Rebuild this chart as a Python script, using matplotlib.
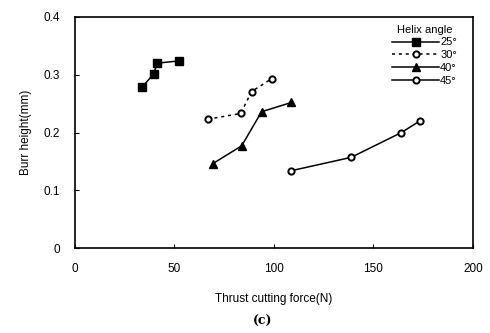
import matplotlib
matplotlib.use("Agg")
from matplotlib import pyplot as plt

plt.rcParams['font.family'] = ['Liberation Sans', 'DejaVu Sans']

# burr height vs thrust force, one series per helix angle
force_25 = [33.8, 39.5, 41.3, 52.2]
burr_25 = [0.279, 0.301, 0.320, 0.324]
force_30 = [66.7, 83.3, 88.8, 98.8]
burr_30 = [0.223, 0.233, 0.271, 0.293]
force_40 = [69.2, 83.8, 93.8, 108.8]
burr_40 = [0.146, 0.177, 0.236, 0.252]
force_45 = [108.8, 138.8, 164.1, 173.3]
burr_45 = [0.134, 0.157, 0.200, 0.220]

fig = plt.figure(figsize=(4.9, 3.33), dpi=100)
ax = fig.add_axes([0.153, 0.255, 0.812, 0.694])

ax.plot(force_25, burr_25, '-', color='black', lw=1.1, marker='s', ms=6,
        mfc='black', mec='black', label='25°')
ax.plot(force_30, burr_30, '--', color='black', lw=1.1, dashes=(2, 2.5), marker='o', ms=4.5,
        mfc='white', mec='black', mew=1.4, label='30°')
ax.plot(force_40, burr_40, '-', color='black', lw=1.1, marker='^', ms=6,
        mfc='black', mec='black', label='40°')
ax.plot(force_45, burr_45, '-', color='black', lw=1.1, marker='o', ms=4.5,
        mfc='white', mec='black', mew=1.4, label='45°')

ax.set_xlim(0, 200)
ax.set_ylim(0, 0.4)
ax.set_xticks([0, 50, 100, 150, 200])
ax.set_yticks([0, 0.1, 0.2, 0.3, 0.4])
ax.set_yticklabels(['0', '0.1', '0.2', '0.3', '0.4'])
ax.tick_params(direction='in', length=3, labelsize=8.5)
ax.tick_params(axis='x', pad=11)
ax.tick_params(axis='y', pad=11)
for s in ax.spines.values():
    s.set_linewidth(1.2)

ax.set_xlabel('Thrust cutting force(N)', fontsize=8.5, labelpad=13)
ax.set_ylabel('Burr height(mm)', fontsize=8.5, labelpad=8)

leg = ax.legend(title='Helix angle', loc='upper right', frameon=False, fontsize=8,
                title_fontsize=8, handlelength=4.2, handletextpad=0.1,
                labelspacing=0.25, markerfirst=True, bbox_to_anchor=(0.985, 1.01))

fig.text(0.535, 0.025, '(c)', family='DejaVu Serif', fontweight='bold', fontsize=9,
         ha='center')

fig.savefig('out.png', dpi=100)
